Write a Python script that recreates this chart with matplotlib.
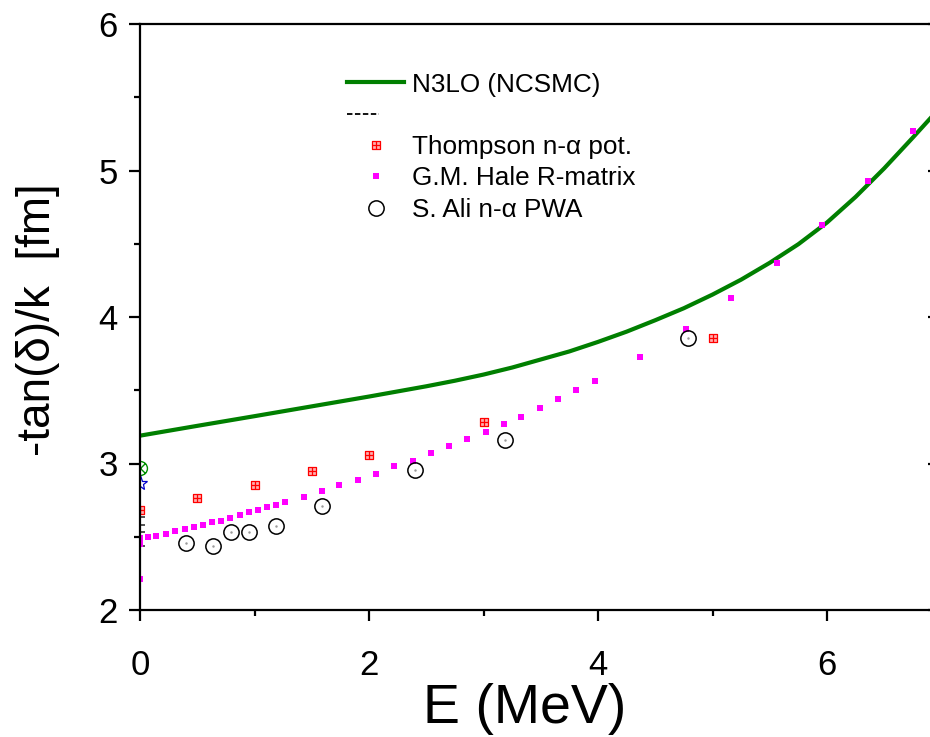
import numpy as np
import matplotlib
matplotlib.use("Agg")
import matplotlib.pyplot as plt
from matplotlib.path import Path
from matplotlib.lines import Line2D
from matplotlib.legend_handler import HandlerLine2D

plt.rcParams['font.family'] = ['Liberation Sans', 'DejaVu Sans']

# N3LO (NCSMC) curve
e_ncsmc = [0.0, 0.5, 1.0, 1.5, 2.0, 2.5, 2.75, 3.0, 3.25, 3.5, 3.75, 4.0,
           4.25, 4.5, 4.75, 5.0, 5.25, 5.5, 5.75, 6.0, 6.25, 6.5, 6.75, 7.0]
y_ncsmc = [3.19, 3.257, 3.323, 3.39, 3.457, 3.527, 3.565, 3.607, 3.655,
           3.71, 3.765, 3.83, 3.90, 3.978, 4.06, 4.153, 4.255, 4.37, 4.497,
           4.645, 4.82, 5.015, 5.225, 5.44]

# Thompson n-alpha potential
e_thompson = [0.0, 0.5, 1.0, 1.5, 2.0, 3.0, 5.0]
y_thompson = [2.68, 2.765, 2.855, 2.95, 3.055, 3.283, 3.86]

# G.M. Hale R-matrix
e_hale = [0.0, 0.0, 0.0, 0.07, 0.14, 0.23, 0.31, 0.39, 0.47, 0.55, 0.63,
          0.71, 0.79, 0.87, 0.95, 1.03, 1.11, 1.19, 1.27, 1.43, 1.59, 1.74,
          1.90, 2.06, 2.22, 2.38, 2.54, 2.70, 2.86, 3.02, 3.18, 3.33, 3.49,
          3.65, 3.81, 3.97, 4.37, 4.77, 5.16, 5.56, 5.96, 6.36, 6.75]
y_hale = [2.21, 2.45, 2.49, 2.50, 2.505, 2.52, 2.537, 2.553, 2.567, 2.58,
          2.60, 2.61, 2.63, 2.65, 2.67, 2.68, 2.70, 2.72, 2.74, 2.77, 2.81,
          2.85, 2.89, 2.93, 2.98, 3.02, 3.07, 3.117, 3.165, 3.215, 3.27,
          3.32, 3.38, 3.44, 3.50, 3.56, 3.73, 3.92, 4.13, 4.37, 4.63, 4.93,
          5.27]

# S. Ali n-alpha PWA
e_ali = [0.40, 0.635, 0.795, 0.955, 1.19, 1.59, 2.40, 3.19, 4.79]
y_ali = [2.46, 2.44, 2.53, 2.53, 2.57, 2.71, 2.956, 3.16, 3.86]

# other points sitting on E = 0
y_dash0 = [2.633, 2.58, 2.535, 2.437]
y_green0 = [2.966]
y_star0 = [2.867]

fig = plt.figure(figsize=(9.3, 7.37), dpi=100)
ax = fig.add_axes([140 / 930, 127 / 737, 801.5 / 930, 586 / 737])

# thompson marker: square with a cross inside
boxplus = Path([(-1, -1), (1, -1), (1, 1), (-1, 1), (-1, -1),
                (0, -1), (0, 1), (-1, 0), (1, 0)],
               [Path.MOVETO, Path.LINETO, Path.LINETO, Path.LINETO, Path.CLOSEPOLY,
                Path.MOVETO, Path.LINETO, Path.MOVETO, Path.LINETO])
circx = Path.unit_circle()
circx = Path(np.concatenate([circx.vertices, [(-0.7, -0.7), (0.7, 0.7), (-0.7, 0.7), (0.7, -0.7)]]),
             np.concatenate([circx.codes, [Path.MOVETO, Path.LINETO, Path.MOVETO, Path.LINETO]]))

ln_ncsmc, = ax.plot(e_ncsmc, y_ncsmc, color='#007f00', lw=3.0)
ax.plot(np.zeros(len(y_dash0)), y_dash0, ls='none', marker='_', ms=7, mew=1.3, color='#444444')
ax.plot(np.zeros(1), y_green0, ls='none', marker=circx, ms=10, mew=1.0,
        mfc='none', mec='#009000')
ax.plot(np.zeros(1), y_star0, ls='none', marker='*', ms=11, mew=0.9,
        mfc='none', mec='#0000cc')
ln_th, = ax.plot(e_thompson, y_thompson, ls='none', marker=boxplus, ms=6, mew=0.9,
                 mfc='#ffb0b0', mec='#ff0000')
ln_hale, = ax.plot(e_hale, y_hale, ls='none', marker='s', ms=4.2, mew=0,
                   color='#ff00ff')
ln_ali, = ax.plot(e_ali, y_ali, ls='none', marker='o', ms=11, mew=1.1,
                  mfc='none', mec='black')
ax.plot(e_ali, y_ali, ls='none', marker='.', ms=1.5, color='#999999')

dash_proxy = Line2D([], [], color='black', lw=1.3, dashes=(3, 1.4))


class ShortHandler(HandlerLine2D):
    def create_artists(self, legend, orig_handle, xdescent, ydescent,
                       width, height, fontsize, trans):
        return super().create_artists(legend, orig_handle, xdescent, ydescent,
                                      width * 0.56, height, fontsize, trans)


leg = ax.legend([ln_ncsmc, dash_proxy, ln_th, ln_hale, ln_ali],
                ['N3LO (NCSMC)', ' ', 'Thompson n-\u03b1 pot.',
                 'G.M. Hale R-matrix', 'S. Ali n-\u03b1 PWA'],
                handler_map={dash_proxy: ShortHandler()},
                loc='upper left', bbox_to_anchor=(0.245, 0.935),
                frameon=False, fontsize=18.8, handlelength=2.2,
                handletextpad=0.3, labelspacing=0.28, borderaxespad=0)

ax.set_xlim(0, 7)
ax.set_ylim(2, 6)
ax.set_xticks([0, 2, 4, 6])
ax.set_xticks([1, 3, 5, 7], minor=True)
ax.set_yticks([2, 3, 4, 5, 6])
ax.set_yticks([2.5, 3.5, 4.5, 5.5], minor=True)
for s in ax.spines.values():
    s.set_linewidth(1.6)
ax.tick_params(which='major', length=8, width=1.6, labelsize=25)
ax.tick_params(which='minor', length=4.5, width=1.6)
ax.tick_params(axis='x', which='major', pad=20)
ax.tick_params(axis='y', which='major', pad=8, right=True, labelright=False)
# right side ticks point inward, left and bottom outward
for t in ax.yaxis.get_major_ticks():
    t.tick2line.set_marker(0)
    t.tick2line.set_markersize(10)

ax.set_xlabel('E (MeV)', fontsize=40)
ax.set_ylabel('-tan(\u03b4)/k  [fm]', fontsize=33)
ax.xaxis.set_label_coords(0.48, -0.124)
ax.yaxis.set_label_coords(-0.10, 0.495)

fig.savefig('out.png', dpi=100)
